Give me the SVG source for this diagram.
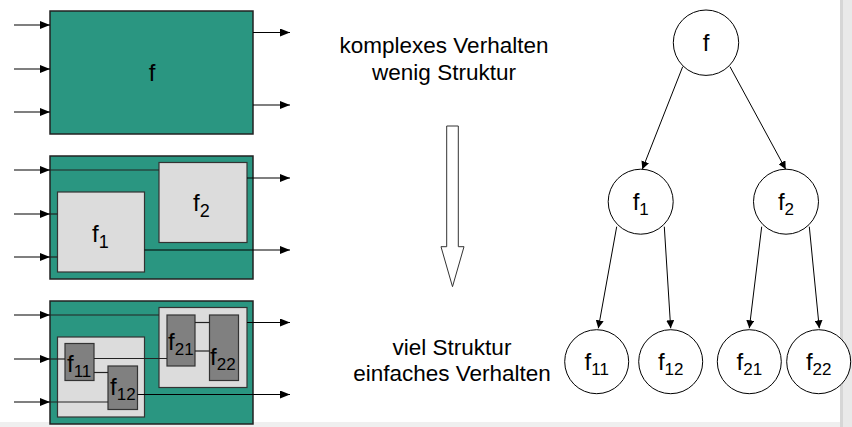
<svg xmlns="http://www.w3.org/2000/svg" width="852" height="427" viewBox="0 0 852 427">
<defs>
<marker id="ah" markerWidth="10" markerHeight="8" refX="10" refY="4" orient="auto" markerUnits="userSpaceOnUse"><path d="M0,0 L10,4 L0,8 Z" fill="#000"/></marker>
<marker id="ta" markerWidth="8" markerHeight="8" refX="8" refY="4" orient="auto" markerUnits="userSpaceOnUse"><path d="M0,0 L8,4 L0,8 Z" fill="#000"/></marker>
<style>
.outer{fill:#2a9681;stroke:#222;stroke-width:1.5}
.lg{fill:#dcdcdc;stroke:#333;stroke-width:1.2}
.dg{fill:#808080;stroke:#333;stroke-width:1.2}
.io{stroke:#000;stroke-width:1.2;fill:none;marker-end:url(#ah)}
.w{stroke:#222;stroke-width:1.2;fill:none}
.t{font-family:"Liberation Sans",Arial,sans-serif;fill:#000}
.nd{fill:#fff;stroke:#000;stroke-width:1}
.ed{stroke:#000;stroke-width:1;fill:none;marker-end:url(#ta)}
</style>
</defs>
<rect x="0" y="0" width="852" height="427" fill="#fff"/>
<rect x="840" y="0" width="12" height="427" fill="#e9e9e9"/>
<rect x="840" y="0" width="3" height="427" fill="#d6d6d6"/>
<rect x="0" y="422" width="840" height="5" fill="#efefef"/>

<g id="block1">
<rect class="outer" x="50" y="11" width="203" height="123"/>
<text class="t" x="152" y="81" font-size="24" text-anchor="middle">f</text>
</g>

<g id="block2">
<rect class="outer" x="50" y="156" width="203" height="123"/>
<rect id="b2-f2" class="lg" x="159" y="162.5" width="88" height="80"/>
<rect id="b2-f1" class="lg" x="57.5" y="192" width="87" height="80"/>
<text class="t" x="92" y="242" font-size="24">f<tspan font-size="18" dy="6">1</tspan></text>
<text class="t" x="193" y="211" font-size="24">f<tspan font-size="18" dy="6">2</tspan></text>
</g>

<g id="block3">
<rect class="outer" x="50" y="301" width="203" height="123"/>
<rect id="b3-f2" class="lg" x="159" y="307.5" width="88" height="80"/>
<rect id="b3-f1" class="lg" x="57.5" y="337" width="87" height="80"/>
<rect id="b3-f21" class="dg" x="167" y="315" width="28" height="51"/>
<rect id="b3-f22" class="dg" x="209.5" y="315" width="29" height="65.5"/>
<rect id="b3-f11" class="dg" x="65" y="343.5" width="29" height="37"/>
<rect id="b3-f12" class="dg" x="108" y="366" width="29.5" height="43.5"/>
<text class="t" x="67" y="372" font-size="24">f<tspan font-size="17" dy="5">11</tspan></text>
<text class="t" x="110" y="395" font-size="24">f<tspan font-size="17" dy="5">12</tspan></text>
<text class="t" x="168" y="350" font-size="24">f<tspan font-size="17" dy="5">21</tspan></text>
<text class="t" x="210" y="365" font-size="24">f<tspan font-size="17" dy="5">22</tspan></text>
</g>

<g id="connectors">
<line class="io" x1="14" y1="25" x2="50" y2="25"/>
<line class="io" x1="14" y1="69" x2="50" y2="69"/>
<line class="io" x1="14" y1="112" x2="50" y2="112"/>
<line class="io" x1="253" y1="32.5" x2="290" y2="32.5"/>
<line class="io" x1="253" y1="105" x2="290" y2="105"/>
<line class="io" x1="14" y1="170" x2="50" y2="170"/>
<line class="io" x1="14" y1="214" x2="50" y2="214"/>
<line class="io" x1="14" y1="257" x2="50" y2="257"/>
<line class="w" x1="50" y1="170" x2="159" y2="170"/>
<line class="w" x1="50" y1="214" x2="57.5" y2="214"/>
<line class="w" x1="50" y1="257" x2="57.5" y2="257"/>
<line class="io" x1="247" y1="178" x2="290" y2="178"/>
<line class="io" x1="144.5" y1="250" x2="290" y2="250"/>
<line class="io" x1="14" y1="315" x2="50" y2="315"/>
<line class="io" x1="14" y1="359" x2="50" y2="359"/>
<line class="io" x1="14" y1="402" x2="50" y2="402"/>
<line class="w" x1="50" y1="315" x2="159" y2="315"/>
<line class="w" x1="50" y1="359" x2="65" y2="359"/>
<line class="w" x1="50" y1="402" x2="108" y2="402"/>
<line class="w" x1="94" y1="358.5" x2="167" y2="358.5"/>
<line class="w" x1="94" y1="372.5" x2="108" y2="372.5"/>
<line class="w" x1="195" y1="322.5" x2="209.5" y2="322.5"/>
<line class="w" x1="195" y1="351" x2="209.5" y2="351"/>
<line class="io" x1="247" y1="322.5" x2="290" y2="322.5"/>
<line class="io" x1="137.5" y1="394.5" x2="290" y2="394.5"/>
<line class="ed" x1="682.7" y1="66.7" x2="642.3" y2="169.3"/>
<line class="ed" x1="730" y1="66.7" x2="785.7" y2="169.3"/>
<line class="ed" x1="616.7" y1="226.7" x2="598.3" y2="328.3"/>
<line class="ed" x1="664.3" y1="226.7" x2="670.7" y2="328.3"/>
<line class="ed" x1="761.7" y1="226.7" x2="749.3" y2="328.3"/>
<line class="ed" x1="809.3" y1="226.7" x2="819.3" y2="328.3"/>
</g>

<g id="labels">
<text class="t" x="444" y="53" font-size="22.5" text-anchor="middle">komplexes Verhalten</text>
<text class="t" x="444" y="80" font-size="22.5" text-anchor="middle">wenig Struktur</text>
<text class="t" x="452" y="355" font-size="22.5" text-anchor="middle">viel Struktur</text>
<text class="t" x="452" y="381" font-size="22.5" text-anchor="middle">einfaches Verhalten</text>
</g>

<g id="big-arrow">
<path d="M446.7,126 L458.3,126 L458.3,246.7 L464,246.7 L452.5,286.7 L441,246.7 L446.7,246.7 Z" fill="#fff" stroke="#333" stroke-width="1"/>
</g>

<g id="node-f"><circle class="nd" cx="706" cy="42.7" r="32.7"/><text class="t" x="706" y="51" font-size="24" text-anchor="middle">f</text></g>
<g id="node-f1"><circle class="nd" cx="640.7" cy="201.7" r="32.5"/><text class="t" x="640.7" y="210" font-size="24" text-anchor="middle">f<tspan font-size="17" dy="5">1</tspan></text></g>
<g id="node-f2"><circle class="nd" cx="786" cy="201.7" r="32.5"/><text class="t" x="786" y="210" font-size="24" text-anchor="middle">f<tspan font-size="17" dy="5">2</tspan></text></g>
<g id="node-f11"><circle class="nd" cx="596.7" cy="361.7" r="32"/><text class="t" x="596.7" y="370" font-size="24" text-anchor="middle">f<tspan font-size="17" dy="5">11</tspan></text></g>
<g id="node-f12"><circle class="nd" cx="670.7" cy="361.7" r="32"/><text class="t" x="670.7" y="370" font-size="24" text-anchor="middle">f<tspan font-size="17" dy="5">12</tspan></text></g>
<g id="node-f21"><circle class="nd" cx="749.3" cy="361.7" r="32"/><text class="t" x="749.3" y="370" font-size="24" text-anchor="middle">f<tspan font-size="17" dy="5">21</tspan></text></g>
<g id="node-f22"><circle class="nd" cx="818.7" cy="361.7" r="32"/><text class="t" x="818.7" y="370" font-size="24" text-anchor="middle">f<tspan font-size="17" dy="5">22</tspan></text></g>
</svg>
